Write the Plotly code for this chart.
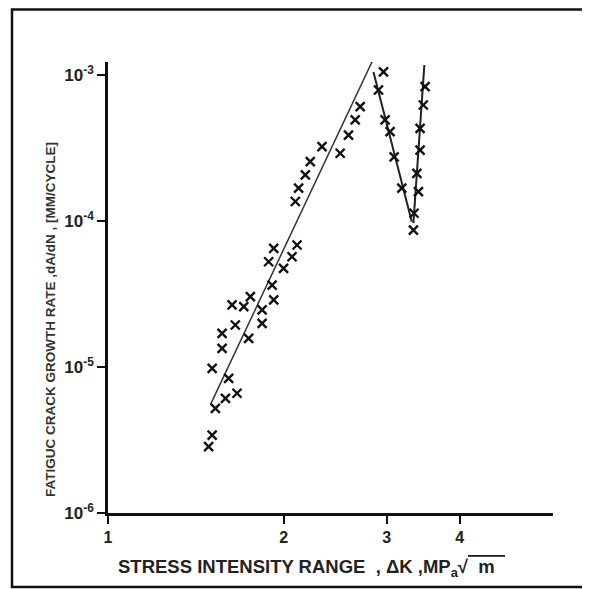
import plotly.graph_objects as go

# ---- data ----
dk_rise = [1.487, 1.508, 1.508, 1.527, 1.568, 1.568, 1.589, 1.609, 1.631, 1.652,
           1.663, 1.708, 1.741, 1.753, 1.836, 1.836, 1.884, 1.910, 1.922, 1.922,
           1.998, 2.066, 2.093, 2.107, 2.120, 2.177, 2.220, 2.325, 2.498, 2.581,
           2.650, 2.703]
dadn_rise = [2.85e-6, 3.42e-6, 9.8e-6, 5.21e-6, 1.70e-5, 1.34e-5, 6.10e-6, 8.37e-6, 2.66e-5, 1.94e-5,
             6.61e-6, 2.59e-5, 1.57e-5, 3.03e-5, 2.46e-5, 1.99e-5, 5.26e-5, 3.64e-5, 2.88e-5, 6.50e-5,
             4.74e-5, 5.69e-5, 1.36e-4, 6.85e-5, 1.68e-4, 2.07e-4, 2.55e-4, 3.23e-4, 2.91e-4, 3.88e-4,
             4.92e-4, 6.07e-4]

dk_drop = [2.905, 2.963, 2.982, 3.041, 3.090, 3.185, 3.343, 3.334]
dadn_drop = [7.89e-4, 1.05e-3, 4.92e-4, 4.09e-4, 2.75e-4, 1.68e-4, 1.13e-4, 8.67e-5]

dk_recover = [3.401, 3.380, 3.423, 3.423, 3.467, 3.491, 3.467]
dadn_recover = [1.59e-4, 2.12e-4, 3.06e-4, 4.31e-4, 6.23e-4, 8.32e-4, 1.44e-3]

dk_fit = [1.497, 2.868]
dadn_fit = [5.50e-6, 1.37e-3]
dk_vleft = [2.848, 3.313]
dadn_vleft = [1.05e-3, 9.89e-5]
dk_vright = [3.334, 3.481]
dadn_vright = [9.68e-5, 1.17e-3]

x_ticks = [1, 2, 3, 4]
x_ticktext = ["<b>1</b>", "<b>2</b>", "<b>3</b>", "<b>4</b>"]
y_ticks = [1e-6, 1e-5, 1e-4, 1e-3]
y_ticktext = ["<b>10<sup>-6</sup></b>", "<b>10<sup>-5</sup></b>",
              "<b>10<sup>-4</sup></b>", "<b>10<sup>-3</sup></b>"]

FONT = "Liberation Sans"

fig = go.Figure()

fig.add_trace(go.Scatter(x=dk_fit, y=dadn_fit, mode="lines", line=dict(color="#333333", width=1.5),
                         cliponaxis=False, showlegend=False, hoverinfo="skip"))
fig.add_trace(go.Scatter(x=dk_vleft, y=dadn_vleft, mode="lines", line=dict(color="#222222", width=2),
                         cliponaxis=False, showlegend=False, hoverinfo="skip"))
fig.add_trace(go.Scatter(x=dk_vright, y=dadn_vright, mode="lines", line=dict(color="#222222", width=2),
                         cliponaxis=False, showlegend=False, hoverinfo="skip"))

marker_style = dict(symbol="x-thin", size=9, color="#111111",
                    line=dict(color="#111111", width=2.4))
for xs, ys in [(dk_rise, dadn_rise), (dk_drop, dadn_drop), (dk_recover, dadn_recover)]:
    fig.add_trace(go.Scatter(x=xs, y=ys, mode="markers", marker=marker_style,
                             cliponaxis=False, showlegend=False))

fig.update_xaxes(type="log", range=[0, 0.762], tickvals=x_ticks, ticktext=x_ticktext,
                 ticks="outside", ticklen=8, tickwidth=2, tickcolor="#111111",
                 showline=True, linewidth=2.5, linecolor="#111111",
                 showgrid=False, zeroline=False,
                 tickfont=dict(family=FONT, size=16, color="#222222"))
fig.update_yaxes(type="log", range=[-6, -2.911], tickvals=y_ticks, ticktext=y_ticktext,
                 ticks="outside", ticklen=8, tickwidth=2, tickcolor="#111111",
                 showline=True, linewidth=2.5, linecolor="#111111",
                 showgrid=False, zeroline=False,
                 tickfont=dict(family=FONT, size=17, color="#222222"))

# axis titles placed to match the reference (paper coordinates of the plot area)
fig.add_annotation(xref="paper", yref="paper", x=(311 - 108) / 445, y=(513 - 568) / 451,
                   text="<b>STRESS INTENSITY RANGE  , ΔK ,MP<sub>a</sub>√<span style='text-decoration:overline'>  m  </span></b>",
                   showarrow=False, font=dict(family=FONT, size=18.5, color="#222222"),
                   xanchor="center", yanchor="middle")
fig.add_annotation(xref="paper", yref="paper", x=(50 - 108) / 445, y=(513 - 320) / 451,
                   text="<b>FATIGUC CRACK GROWTH RATE ,dA/dN , [MM/CYCLE]</b>",
                   textangle=-90, showarrow=False,
                   font=dict(family=FONT, size=13.5, color="#333333"),
                   xanchor="center", yanchor="middle")

# outer frame
fig.add_shape(type="rect", xref="paper", yref="paper",
              x0=(12 - 108) / 445, x1=(586 - 108) / 445,
              y0=(513 - 587) / 451, y1=(513 - 9.5) / 451,
              line=dict(color="#111111", width=2.5), fillcolor="rgba(0,0,0,0)")

fig.update_layout(width=582, height=581, margin=dict(l=100, r=37, t=54, b=76),
                  paper_bgcolor="white", plot_bgcolor="white", showlegend=False)

fig.write_html("out.html")
